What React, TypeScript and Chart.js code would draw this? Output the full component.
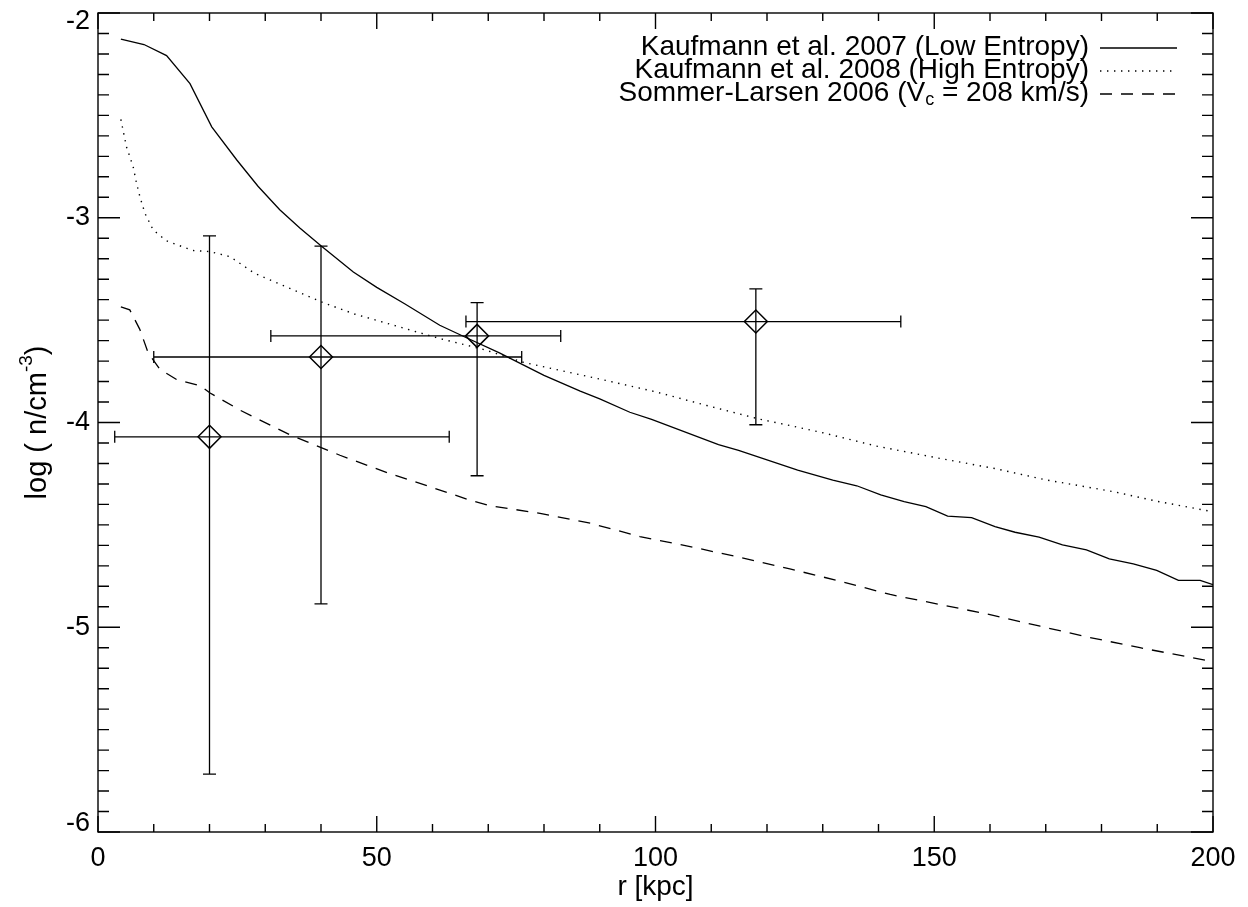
import React, { useEffect, useRef } from 'react';
import { Chart, registerables } from 'chart.js';

Chart.register(...registerables);

const FONT = '"Liberation Sans", Arial, Helvetica, sans-serif';

// Kaufmann et al. 2007 (Low Entropy) — solid
const lowEntropyR = [4.1, 8.25, 12.3, 16.5, 20.4, 24.9, 28.7, 32.6, 36.2, 40.1, 45.8, 50, 55, 61.3, 66, 72, 80, 86.5, 90, 95.4, 99.3, 111.3, 114.9, 125.5, 131.8, 136.1, 140.4, 144.6, 148.5, 152.4, 156.7, 160.9, 164.5, 168.8, 173, 177.3, 181.4, 185.7, 189.9, 193.8, 197.7, 200];
const lowEntropyLogN = [-2.128, -2.154, -2.208, -2.345, -2.556, -2.718, -2.846, -2.961, -3.05, -3.139, -3.265, -3.34, -3.42, -3.525, -3.585, -3.66, -3.77, -3.847, -3.885, -3.95, -3.985, -4.108, -4.136, -4.233, -4.282, -4.309, -4.354, -4.387, -4.411, -4.457, -4.465, -4.508, -4.536, -4.56, -4.598, -4.622, -4.666, -4.69, -4.722, -4.771, -4.771, -4.792];

// Kaufmann et al. 2008 (High Entropy) — dotted
const highEntropyR = [4.1, 5.1, 6.3, 6.9, 7.5, 8.4, 9.9, 12.3, 17, 20, 23.7, 28, 34, 40.4, 46, 52.4, 61.3, 69, 76.3, 91.2, 100, 109.2, 118.4, 125, 130, 139.6, 150, 160.9, 170, 182.2, 190, 200];
const highEntropyLogN = [-2.52, -2.653, -2.75, -2.83, -2.895, -2.977, -3.06, -3.113, -3.16, -3.165, -3.19, -3.27, -3.34, -3.415, -3.47, -3.52, -3.59, -3.642, -3.706, -3.795, -3.85, -3.917, -3.982, -4.02, -4.05, -4.115, -4.17, -4.225, -4.28, -4.338, -4.385, -4.436];

// Sommer-Larsen 2006 — dashed
const sommerR = [4.1, 5.7, 7.5, 9, 11.1, 14.1, 18.3, 20.1, 25.5, 34.4, 43.4, 52.4, 62.7, 66.7, 70.3, 79.3, 88.3, 97.2, 106.2, 115.2, 124.1, 133.1, 142.1, 151, 160, 169, 177.9, 186.9, 200];
const sommerLogN = [-3.435, -3.45, -3.545, -3.66, -3.74, -3.79, -3.82, -3.856, -3.94, -4.06, -4.16, -4.25, -4.342, -4.379, -4.406, -4.444, -4.492, -4.557, -4.606, -4.659, -4.715, -4.775, -4.84, -4.889, -4.938, -4.995, -5.05, -5.1, -5.168];

// Observational points with error bars
const obsR = [20, 40, 68, 118];
const obsLogN = [-4.07, -3.68, -3.577, -3.507];
const obsRLow = [3, 10, 31, 66];
const obsRHigh = [63, 76, 83, 144];
const obsLogNLow = [-5.717, -4.886, -4.26, -4.011];
const obsLogNHigh = [-3.089, -3.139, -3.415, -3.347];

const xMin = 0, xMax = 200, xMajor = 50, xMinor = 10;
const yMin = -6, yMax = -2, yMajor = 1, yMinor = 0.1;

const legendLabels = [
  'Kaufmann et al. 2007 (Low Entropy)',
  'Kaufmann et al. 2008 (High Entropy)',
  'Sommer-Larsen 2006 (V{c} = 208 km/s)',
];
const xTitle = 'r [kpc]';
const yTitleParts = ['log ( n/cm', '-3', ')'];

const zip = (xs: number[], ys: number[]) => xs.map((x, i) => ({ x, y: ys[i] }));

const idlAxes = {
  id: 'idlAxes',
  afterDatasetsDraw(chart: any) {
    const { ctx, chartArea, scales } = chart;
    const { left, right, top, bottom } = chartArea;
    const x = scales.x, y = scales.y;
    ctx.save();
    ctx.strokeStyle = '#000';
    ctx.lineWidth = 1.3;

    // error bars
    ctx.beginPath();
    for (let i = 0; i < obsR.length; i++) {
      const px = x.getPixelForValue(obsR[i]);
      const py = y.getPixelForValue(obsLogN[i]);
      const x1 = x.getPixelForValue(obsRLow[i]);
      const x2 = x.getPixelForValue(obsRHigh[i]);
      const y1 = y.getPixelForValue(obsLogNHigh[i]);
      const y2 = y.getPixelForValue(obsLogNLow[i]);
      ctx.moveTo(x1, py); ctx.lineTo(x2, py);
      ctx.moveTo(x1, py - 6); ctx.lineTo(x1, py + 6);
      ctx.moveTo(x2, py - 6); ctx.lineTo(x2, py + 6);
      ctx.moveTo(px, y1); ctx.lineTo(px, y2);
      ctx.moveTo(px - 6.5, y1); ctx.lineTo(px + 6.5, y1);
      ctx.moveTo(px - 6.5, y2); ctx.lineTo(px + 6.5, y2);
    }
    ctx.stroke();

    // frame
    ctx.lineWidth = 1.4;
    ctx.strokeRect(left, top, right - left, bottom - top);

    // inward ticks
    ctx.beginPath();
    const nx = Math.round((xMax - xMin) / xMinor);
    for (let i = 0; i <= nx; i++) {
      const v = xMin + i * xMinor;
      const px = x.getPixelForValue(v);
      const major = Math.abs(v / xMajor - Math.round(v / xMajor)) < 1e-6;
      const len = major ? 16 : 8;
      ctx.moveTo(px, bottom); ctx.lineTo(px, bottom - len);
      ctx.moveTo(px, top); ctx.lineTo(px, top + len);
    }
    const ny = Math.round((yMax - yMin) / yMinor);
    for (let i = 0; i <= ny; i++) {
      const v = yMin + i * yMinor;
      const py = y.getPixelForValue(v);
      const major = Math.abs(v / yMajor - Math.round(v / yMajor)) < 1e-6;
      const len = major ? 22 : 11;
      ctx.moveTo(left, py); ctx.lineTo(left + len, py);
      ctx.moveTo(right, py); ctx.lineTo(right - len, py);
    }
    ctx.stroke();

    // legend
    const rows = [47, 70, 93];
    const textRight = 1089;
    const sampleL = 1100, sampleR = 1177;
    const bigFont = `28px ${FONT}`;
    const subFont = `18px ${FONT}`;
    ctx.fillStyle = '#000';
    ctx.textBaseline = 'middle';
    ctx.textAlign = 'left';
    legendLabels.forEach((lab, i) => {
      const parts: { t: string; sub: boolean }[] = [];
      const re = /\{([^}]*)\}/g;
      let last = 0; let m: RegExpExecArray | null;
      while ((m = re.exec(lab))) {
        parts.push({ t: lab.slice(last, m.index), sub: false });
        parts.push({ t: m[1], sub: true });
        last = m.index + m[0].length;
      }
      parts.push({ t: lab.slice(last), sub: false });
      let total = 0;
      parts.forEach(p => { ctx.font = p.sub ? subFont : bigFont; total += ctx.measureText(p.t).width; });
      let cx = textRight - total;
      const cy = rows[i];
      parts.forEach(p => {
        ctx.font = p.sub ? subFont : bigFont;
        ctx.fillText(p.t, cx, p.sub ? cy + 7 : cy);
        cx += ctx.measureText(p.t).width;
      });
      const ds = chart.data.datasets[i];
      ctx.save();
      ctx.lineWidth = ds.borderWidth;
      ctx.setLineDash(ds.borderDash || []);
      ctx.beginPath();
      ctx.moveTo(sampleL, cy + 1); ctx.lineTo(sampleR, cy + 1);
      ctx.stroke();
      ctx.restore();
    });

    // y axis title with superscript
    ctx.save();
    ctx.translate(38, (top + bottom) / 2);
    ctx.rotate(-Math.PI / 2);
    const mainF = `29px ${FONT}`, supF = `19px ${FONT}`;
    ctx.font = mainF; const w0 = ctx.measureText(yTitleParts[0]).width;
    ctx.font = supF; const w1 = ctx.measureText(yTitleParts[1]).width;
    ctx.font = mainF; const w2 = ctx.measureText(yTitleParts[2]).width;
    let tx = -(w0 + w1 + w2) / 2;
    ctx.font = mainF; ctx.fillText(yTitleParts[0], tx, 0); tx += w0;
    ctx.font = supF; ctx.fillText(yTitleParts[1], tx, -11); tx += w1;
    ctx.font = mainF; ctx.fillText(yTitleParts[2], tx, 0);
    ctx.restore();

    ctx.restore();
  },
};

export default function App() {
  const ref = useRef<HTMLCanvasElement | null>(null);
  useEffect(() => {
    if (!ref.current) return;
    const chart = new Chart(ref.current, {
      type: 'scatter',
      data: {
        datasets: [
          { label: 'Kaufmann et al. 2007 (Low Entropy)', data: zip(lowEntropyR, lowEntropyLogN), showLine: true, borderColor: '#000', borderWidth: 1.3, pointRadius: 0, tension: 0, fill: false } as any,
          { label: 'Kaufmann et al. 2008 (High Entropy)', data: zip(highEntropyR, highEntropyLogN), showLine: true, borderColor: '#000', borderWidth: 1.4, borderDash: [1.4, 5.6], pointRadius: 0, tension: 0, fill: false } as any,
          { label: 'Sommer-Larsen 2006 (Vc = 208 km/s)', data: zip(sommerR, sommerLogN), showLine: true, borderColor: '#000', borderWidth: 1.3, borderDash: [12, 9], pointRadius: 0, tension: 0, fill: false } as any,
          { label: 'observations', data: zip(obsR, obsLogN), showLine: false, pointStyle: 'rectRot', pointRadius: 11.5, pointBorderWidth: 1.5, borderColor: '#000', pointBorderColor: '#000', backgroundColor: 'rgba(0,0,0,0)', pointBackgroundColor: 'rgba(0,0,0,0)' } as any,
        ],
      },
      options: {
        animation: false,
        responsive: false,
        layout: { padding: { top: 9, right: 35, left: 0, bottom: 0 } },
        plugins: { legend: { display: false }, tooltip: { enabled: false } },
        scales: {
          x: {
            type: 'linear', min: xMin, max: xMax,
            grid: { display: false, drawTicks: false },
            border: { display: false },
            ticks: { stepSize: xMajor, color: '#000', font: { family: FONT, size: 27 }, padding: 10, maxRotation: 0, autoSkip: false },
            title: { display: true, text: xTitle, color: '#000', font: { family: FONT, size: 28 }, padding: { top: 0, bottom: 3 } },
            afterFit: (s: any) => { s.height = 75; s.paddingLeft = 0; s.paddingRight = 0; },
          },
          y: {
            type: 'linear', min: yMin, max: yMax,
            grid: { display: false, drawTicks: false },
            border: { display: false },
            ticks: {
              stepSize: yMajor, color: '#000', font: { family: FONT, size: 27, lineHeight: 0.6 }, padding: 8,
              callback: (v: any) => (v === yMax ? ['', String(v)] : v === yMin ? [String(v), ''] : String(v)),
            },
            afterFit: (s: any) => { s.width = 98; s.paddingTop = 0; s.paddingBottom = 0; },
          },
        },
      } as any,
      plugins: [idlAxes],
    });
    return () => chart.destroy();
  }, []);
  return (
    <canvas ref={ref} width={1248} height={907} style={{ position: 'absolute', left: 0, top: 0, display: 'block' }} />
  );
}
